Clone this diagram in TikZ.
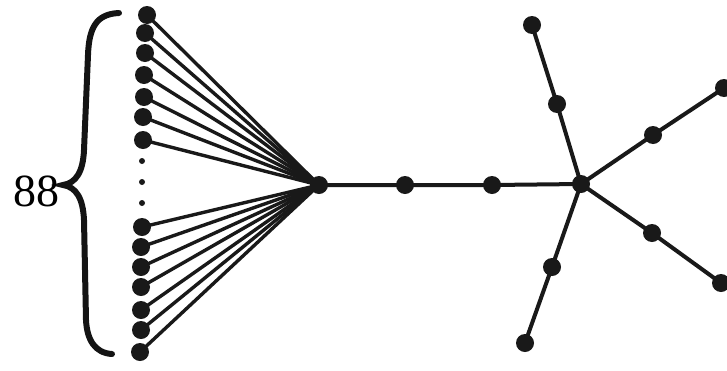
\documentclass[tikz,border=0pt]{standalone}
\usepackage{fontspec}
\setmainfont{Liberation Serif}
\begin{document}
\begin{tikzpicture}[x=1pt,y=-1pt,
  vtx/.style={circle,fill=black!90,inner sep=0pt,minimum size=18pt},
  smalldot/.style={circle,fill=black!90,inner sep=0pt,minimum size=6pt},
  fanedge/.style={line width=3.4pt,black!90},
  edge/.style={line width=4pt,black!90},
  bracestyle/.style={line width=6pt,line cap=round,black!92}]
\useasboundingbox (0,0) rectangle (727,370);
% left column
\foreach \i/\x/\y in {1/147/15,2/145/33,3/145/53,4/144/75,5/144/97,6/143/117,7/143/140,
                      8/142/227,9/141/247,10/141/267,11/141/287,12/141/310,13/141/330,14/140/352}
  \node[vtx] (l\i) at (\x,\y) {};
\node[smalldot] (d1) at (142,161) {};
\node[smalldot] (d2) at (142,182) {};
\node[smalldot] (d3) at (142,203) {};
% hub and chain
\node[vtx] (h) at (319,185) {};
\node[vtx] (p1) at (405,185) {};
\node[vtx] (p2) at (492,185) {};
\node[vtx] (c) at (581,184) {};
% branches
\node[vtx] (t1) at (557,104) {};
\node[vtx] (t2) at (532,25) {};
\node[vtx] (b1) at (552,267) {};
\node[vtx] (b2) at (525,343) {};
\node[vtx] (u1) at (653,135) {};
\node[vtx] (u2) at (724,88) {};
\node[vtx] (w1) at (652,233) {};
\node[vtx] (w2) at (721,283) {};
% edges
\foreach \i in {1,...,14} \draw[fanedge] (l\i.center) -- (h.center);
\draw[edge] (h.center) -- (p1.center) -- (p2.center) -- (c.center);
\draw[edge] (c.center) -- (t1.center) -- (t2.center);
\draw[edge] (c.center) -- (b1.center) -- (b2.center);
\draw[edge] (c.center) -- (u1.center) -- (u2.center);
\draw[edge] (c.center) -- (w1.center) -- (w2.center);
% brace
\coordinate (btop) at (119,13);
\coordinate (bbot) at (112,354);
\coordinate (btip) at (63,185);
\draw[bracestyle] (btop) .. controls (96,14) and (89,28) .. (88,55)
  -- (84,150) .. controls (83,172) and (76,183) .. (btip)
  .. controls (76,187) and (83,198) .. (84,220)
  -- (86,320) .. controls (87,340) and (95,353) .. (bbot);
\node[font=\fontsize{46}{46}\selectfont,inner sep=0pt,anchor=east] (lab) at (60,191) {88};
\end{tikzpicture}
\end{document}
